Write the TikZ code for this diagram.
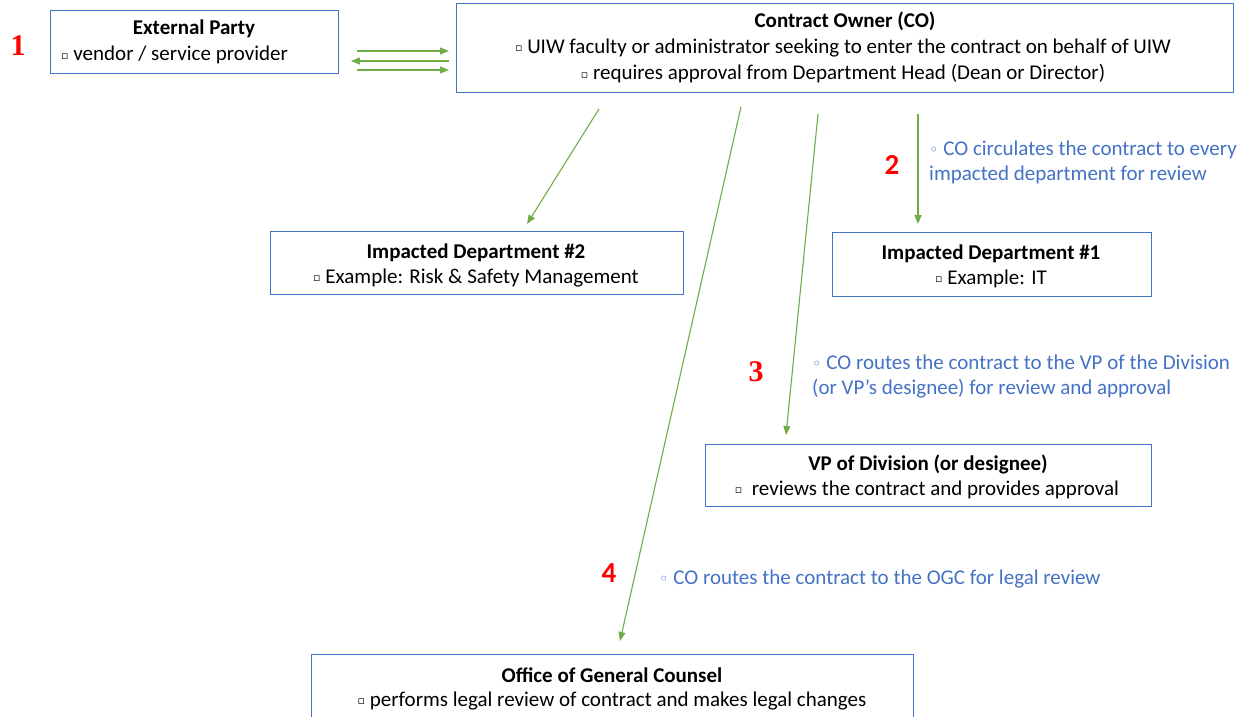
\documentclass[tikz,border=0pt]{standalone}
\usepackage{fontspec}
\setmainfont{Carlito}
\newfontfamily\symfont{DejaVu Sans}
\newfontfamily\serifnum{Liberation Serif}
\usetikzlibrary{arrows.meta,calc}
\definecolor{boxblue}{HTML}{4472C4}
\definecolor{arrgreen}{HTML}{70AD47}
\definecolor{txtblue}{HTML}{4472C4}
\newcommand{\sqb}{\raisebox{1.5pt}{\symfont\fontsize{11}{11}\selectfont ▫}}
\newcommand{\wbul}{{\symfont\fontsize{16}{16}\selectfont ◦}}
\begin{document}
\fontsize{21}{25}\selectfont
\begin{tikzpicture}[x=1pt,y=-1pt,
  box/.style={draw=boxblue, line width=0.9pt, inner sep=0pt, anchor=north west},
  ttl/.style={font=\bfseries, anchor=base, inner sep=0pt},
  txt/.style={anchor=base, inner sep=0pt},
  note/.style={anchor=base west, inner sep=0pt, text=txtblue},
  flow/.style={draw=arrgreen, line width=1.1pt, -{Triangle[length=9pt,width=7pt]}},
  numa/.style={text=red, font=\serifnum\bfseries\fontsize{30}{30}\selectfont, anchor=base, inner sep=0pt},
  numb/.style={text=red, font=\bfseries\fontsize{29}{29}\selectfont, anchor=base, inner sep=0pt}]
\clip (0,0) rectangle (1250,717);
\fill[white] (0,0) rectangle (1250,717);

% boxes
\node[box, minimum width=288pt, minimum height=63pt] (ext) at (50,10) {};
\node[box, minimum width=777pt, minimum height=89pt] (co) at (456,3) {};
\node[box, minimum width=413pt, minimum height=63pt] (d2) at (270,231) {};
\node[box, minimum width=319pt, minimum height=64pt] (d1) at (832,232) {};
\node[box, minimum width=446pt, minimum height=62pt] (vp) at (705,444) {};
\node[box, minimum width=602pt, minimum height=90pt] (ogc) at (311,654) {};

% box texts
\node[ttl] (extT) at (194,35) {External Party};
\node[anchor=base west, inner sep=0pt] (extL) at (61,61) {\sqb\ vendor / service provider};

\node[ttl] (coT) at (845,28) {Contract Owner (CO)};
\node[txt] (coL1) at (843,53) {\sqb\ UIW faculty or administrator seeking to enter the contract on behalf of UIW};
\node[txt] (coL2) at (843,80) {\sqb\ requires approval from Department Head (Dean or Director)};

\node[ttl] (d2T) at (476,258) {Impacted Department \#2};
\node[txt] (d2L) at (476,283) {\sqb\ Example: Risk \& Safety Management};

\node[ttl] (d1T) at (991,259) {Impacted Department \#1};
\node[txt] (d1L) at (991,284) {\sqb\ Example: IT};

\node[ttl] (vpT) at (928,470) {VP of Division (or designee)};
\node[txt] (vpL) at (927,495) {\sqb\ \ reviews the contract and provides approval};

\node[ttl] (ogcT) at (612,682) {Office of General Counsel};
\node[txt] (ogcL) at (612,706) {\sqb\ performs legal review of contract and makes legal changes};

% numbers
\node[numa] (n1) at (18,56) {1};
\node[numb] (n2) at (892,174) {2};
\node[numa] (n3) at (756,381) {3};
\node[numb] (n4) at (609,582) {4};

% notes
\node[note] (t2a) at (929,155) {\wbul\ CO circulates the contract to every};
\node[note] (t2b) at (929,180) {impacted department for review};
\node[note] (t3a) at (812,369) {\wbul\ CO routes the contract to the VP of the Division};
\node[note] (t3b) at (812,394) {(or VP’s designee) for review and approval};
\node[note] (t4) at (659,584) {\wbul\ CO routes the contract to the OGC for legal review};

% connectors
\draw[flow] ($(ext.north east)+(18,41)$) -- ($(co.north west)+(-7,48)$);
\draw[flow] ($(co.north west)+(-7,58)$) -- ($(ext.north east)+(12,51)$);
\draw[flow] ($(ext.north east)+(18,60)$) -- ($(co.north west)+(-7,67)$);

\draw[flow] ($(co.south west)+(143,16)$) -- ($(d2.north west)+(257,-7)$);
\draw[flow] ($(co.south west)+(285,14)$) -- ($(ogc.north west)+(309,-13)$);
\draw[flow] ($(co.south west)+(362,21)$) -- ($(vp.north west)+(81,-9)$);
\draw[flow] ($(co.south west)+(462,21)$) -- ($(d1.north west)+(86,-8)$);
\end{tikzpicture}
\end{document}
